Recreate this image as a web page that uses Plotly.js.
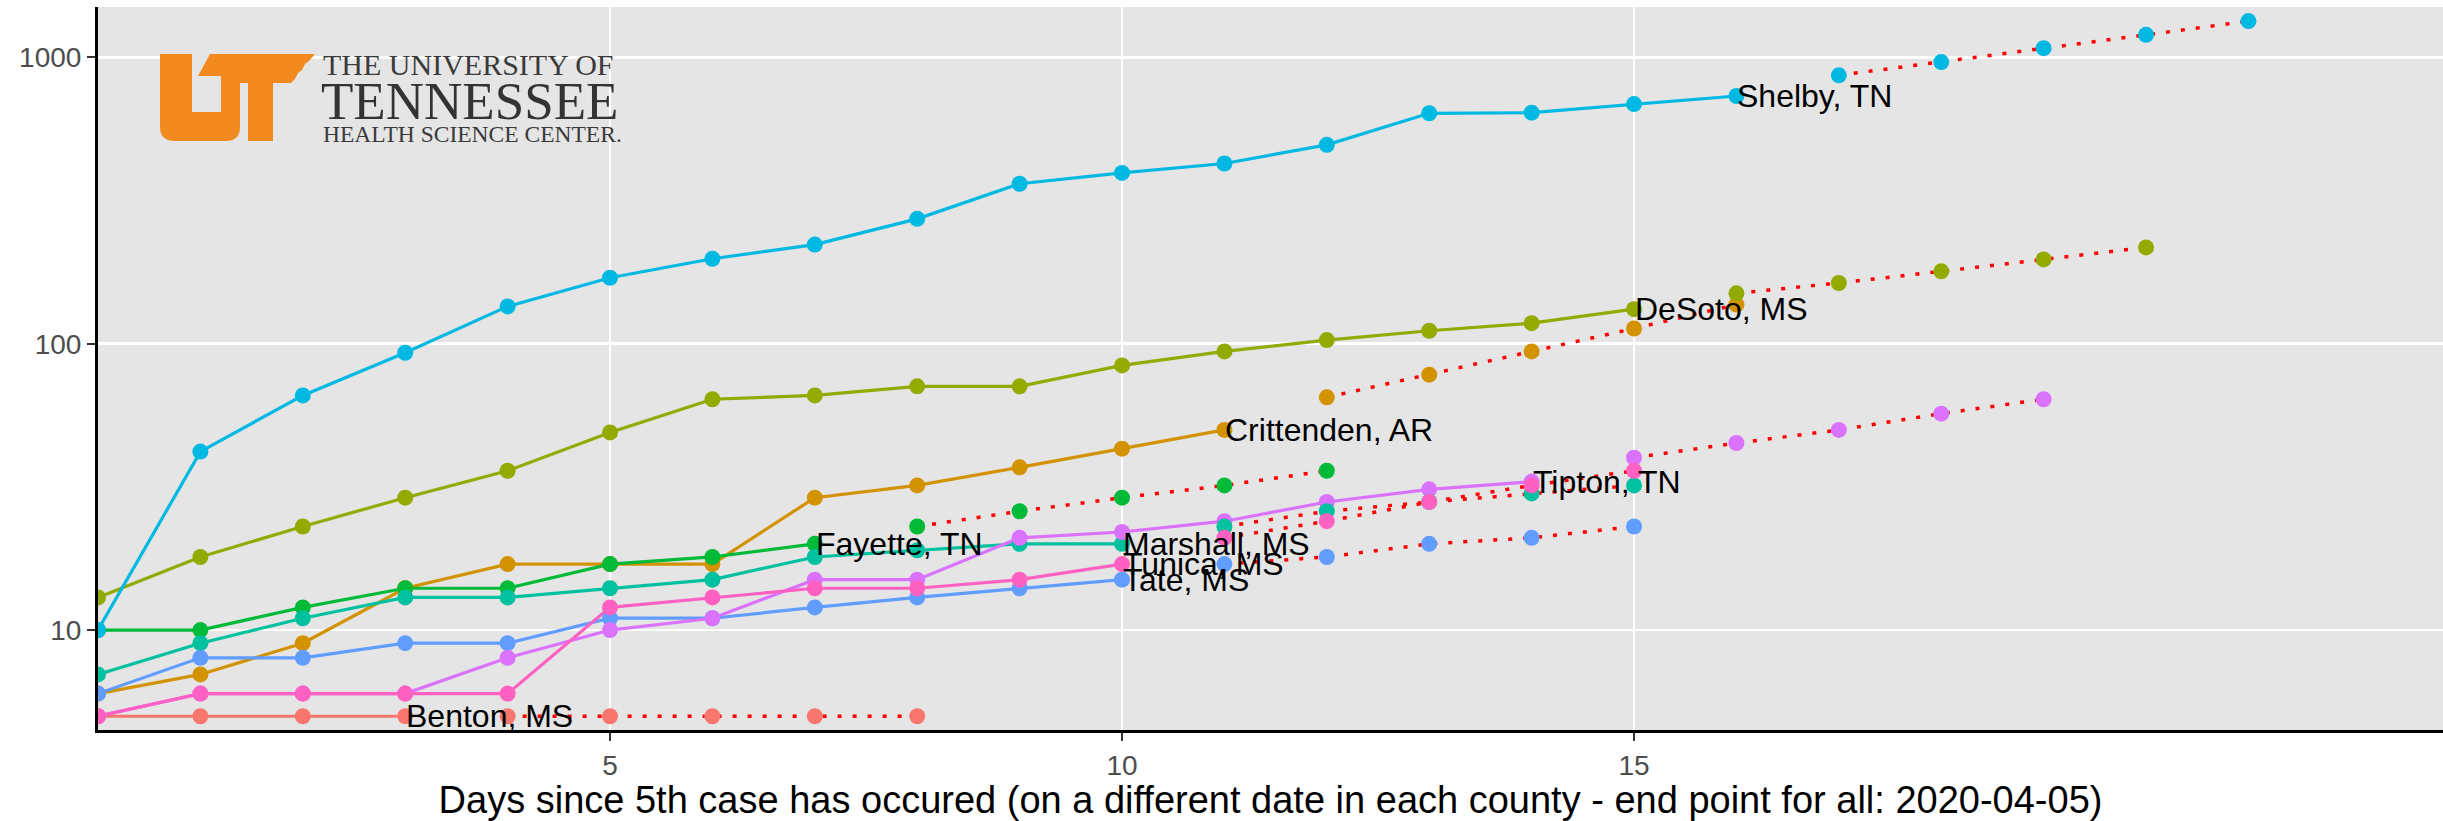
<!DOCTYPE html>
<html>
<head>
<meta charset="utf-8">
<script src="https://cdn.plot.ly/plotly-3.0.1.min.js"></script>
<style>
html, body { margin: 0; padding: 0; background: #ffffff; }
#chart { width: 2443px; height: 821px; }
</style>
</head>
<body>
<div id="chart"></div>
<script>
// ---- Data (cases; index = days since 5th case) ----
const countyNames = ["Benton, MS", "Crittenden, AR", "DeSoto, MS", "Fayette, TN", "Marshall, MS",
                     "Shelby, TN", "Tate, MS", "Tipton, TN", "Tunica, MS"];

const bentonObserved     = [5, 5, 5, 5];
const bentonProjected    = [5, 5, 5, 5, 5];
const crittendenObserved = [6, 7, 9, 14, 17, 17, 17, 29, 32, 37, 43, 50];
const crittendenProjected= [65, 78, 94, 113, 137];
const desotoObserved     = [13, 18, 23, 29, 36, 49, 64, 66, 71, 71, 84, 94, 103, 111, 118, 132];
const desotoProjected    = [150, 163, 179, 197, 217];
const fayetteObserved    = [10, 10, 12, 14, 14, 17, 18, 20];
const fayetteProjected   = [23, 26, 29, 32, 36];
const marshallObserved   = [7, 9, 11, 13, 13, 14, 15, 18, 19, 20, 20];
const marshallProjected  = [23, 26, 28, 30, 32];
const shelbyObserved     = [10, 42, 66, 93, 135, 170, 198, 222, 273, 362, 395, 426, 495, 638, 641, 687, 733];
const shelbyProjected    = [866, 963, 1077, 1199, 1339];
const tateObserved       = [6, 8, 8, 9, 9, 11, 11, 12, 13, 14, 15];
const tateProjected      = [17, 18, 20, 21, 23];
const tiptonObserved     = [5, 6, 6, 6, 8, 10, 11, 15, 15, 21, 22, 24, 28, 31, 33];
const tiptonProjected    = [40, 45, 50, 57, 64];
const tunicaObserved     = [5, 6, 6, 6, 6, 12, 13, 14, 14, 15, 17];
const tunicaProjected    = [21, 24, 28, 32, 36];

const xTickVals = [5, 10, 15];
const xTickText = ["5", "10", "15"];
const yTickVals = [10, 100, 1000];
const yTickText = ["10", "100", "1000"];

const xTitle = "Days since 5th case has occured (on a different date in each county - end point for all: 2020-04-05)";
const logoLine1 = "THE UNIVERSITY OF";
const logoLine2 = "TENNESSEE";
const logoLine3 = "HEALTH SCIENCE CENTER.";

// ---- Styles ----
const countyColors = ["#F8766D", "#D39200", "#93AA00", "#00BA38", "#00C19F",
                      "#00B9E3", "#619CFF", "#DB72FB", "#FF61C3"];
const observedSeries = [bentonObserved, crittendenObserved, desotoObserved, fayetteObserved,
  marshallObserved, shelbyObserved, tateObserved, tiptonObserved, tunicaObserved];
const projectedSeries = [bentonProjected, crittendenProjected, desotoProjected, fayetteProjected,
  marshallProjected, shelbyProjected, tateProjected, tiptonProjected, tunicaProjected];

const FONT = "Liberation Sans, Arial, Helvetica, sans-serif";
const SERIF = "Liberation Serif, Times New Roman, serif";
const PANEL = "#E5E5E5";
const LINE_W = 3.2;
const MARK = 16;

const traces = [];
const obsX = observedSeries.map(s => s.map((_, i) => i));
const projX = projectedSeries.map((s, k) => s.map((_, i) => observedSeries[k].length + i));

// observed lines
observedSeries.forEach((s, k) => {
  traces.push({ type: "scatter", mode: "lines", x: obsX[k], y: s,
    line: { color: countyColors[k], width: LINE_W }, hoverinfo: "skip", name: countyNames[k] });
});
// observed points
observedSeries.forEach((s, k) => {
  traces.push({ type: "scatter", mode: "markers", x: obsX[k], y: s,
    marker: { color: countyColors[k], size: MARK }, hoverinfo: "skip", name: countyNames[k] });
});
// projection dotted red lines
projectedSeries.forEach((s, k) => {
  traces.push({ type: "scatter", mode: "lines", x: projX[k], y: s,
    line: { color: "#FF0000", width: 3.5, dash: "4px,11px" }, hoverinfo: "skip", name: countyNames[k] + " projection" });
});
// projection points
projectedSeries.forEach((s, k) => {
  traces.push({ type: "scatter", mode: "markers", x: projX[k], y: s,
    marker: { color: countyColors[k], size: MARK }, hoverinfo: "skip", name: countyNames[k] + " projection" });
});

// county labels at the last observed point
const annotations = observedSeries.map((s, k) => ({
  x: s.length - 1, y: Math.log10(s[s.length - 1]), xref: "x", yref: "y",
  text: countyNames[k], showarrow: false, xanchor: "left", yanchor: "middle",
  font: { family: FONT, size: 32, color: "#000000" }, borderpad: 0
}));

// logo (decoration) in paper coordinates, converted from pixel positions of the plot area
const L = 98, R = 2443, T = 7, B = 730;
const px = x => ((x - L) / (R - L)).toFixed(5);
const py = y => ((B - y) / (B - T)).toFixed(5);
function path(cmds) {
  return cmds.map(c => {
    if (c[0] === "Z") return "Z";
    if (c[0] === "Q") return "Q" + px(c[1]) + "," + py(c[2]) + " " + px(c[3]) + "," + py(c[4]);
    return c[0] + px(c[1]) + "," + py(c[2]);
  }).join(" ");
}
const logoOuter = path([["M",160,54],["L",315,54],["L",309,61],["L",305,64],["L",302,70],["L",298,73],
  ["L",295,79],["L",291,83],["L",273,83],["L",273,141],["L",248,141],["L",248,83],["L",240,83],
  ["L",240,127],["Q",240,141,226,141],["L",175,141],["Q",160,141,160,127],["Z"]]);
const logoNotch = path([["M",192,112],["L",192,54],["L",210,54],["L",198,76],["L",221,76],["L",221,112],["Z"]]);

annotations.push(
  { xref: "paper", yref: "paper", x: +px(322), y: +py(65), xanchor: "left", yanchor: "middle",
    text: logoLine1, showarrow: false, borderpad: 0, font: { family: SERIF, size: 30, color: "#3a3a3a" } },
  { xref: "paper", yref: "paper", x: +px(320), y: +py(101), xanchor: "left", yanchor: "middle",
    text: logoLine2, showarrow: false, borderpad: 0, font: { family: SERIF, size: 53, color: "#333333" } },
  { xref: "paper", yref: "paper", x: +px(322), y: +py(134), xanchor: "left", yanchor: "middle",
    text: logoLine3, showarrow: false, borderpad: 0, font: { family: SERIF, size: 23.5, color: "#3a3a3a" } }
);

const layout = {
  width: 2443, height: 821,
  margin: { l: 98, r: 0, t: 7, b: 91, pad: 0 },
  paper_bgcolor: "#ffffff", plot_bgcolor: PANEL,
  showlegend: false,
  font: { family: FONT, color: "#000000" },
  xaxis: {
    type: "linear", range: [0, 22.9], tickmode: "array", tickvals: xTickVals, ticktext: xTickText,
    showgrid: true, gridcolor: "#ffffff", gridwidth: 2.5, zeroline: false,
    showline: true, linecolor: "#000000", linewidth: 3,
    ticks: "outside", ticklen: 8, tickwidth: 2, tickcolor: "#333333",
    tickfont: { family: FONT, size: 28, color: "#4D4D4D" },
    title: { text: xTitle, font: { family: FONT, size: 38, color: "#000000" }, standoff: 8 }
  },
  yaxis: {
    type: "log", range: [0.651, 3.176], tickmode: "array", tickvals: yTickVals, ticktext: yTickText,
    showgrid: true, gridcolor: "#ffffff", gridwidth: 2.5, zeroline: false,
    showline: true, linecolor: "#000000", linewidth: 3,
    ticks: "outside", ticklen: 8, tickwidth: 2, tickcolor: "#333333",
    tickfont: { family: FONT, size: 28, color: "#4D4D4D" }
  },
  shapes: [
    { type: "path", xref: "paper", yref: "paper", path: logoOuter, fillcolor: "#F28A1F", line: { width: 0 }, layer: "above" },
    { type: "path", xref: "paper", yref: "paper", path: logoNotch, fillcolor: PANEL, line: { width: 0 }, layer: "above" }
  ],
  annotations: annotations
};

Plotly.newPlot("chart", traces, layout, { displayModeBar: false, staticPlot: true });
</script>
</body>
</html>
